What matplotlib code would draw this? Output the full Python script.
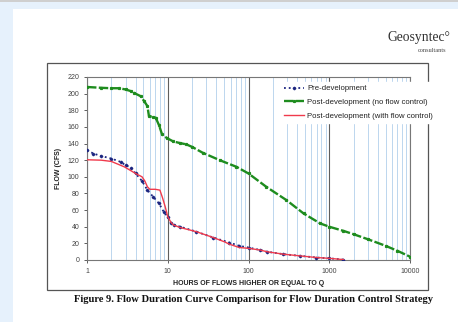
import numpy as np
import matplotlib
matplotlib.use('Agg')
from matplotlib import pyplot as plt
from matplotlib.patches import Rectangle
from matplotlib.ticker import LogLocator, FixedLocator, NullFormatter

# values (hours, cfs)
pre_hours = [1, 1.2, 1.5, 2, 2.6, 3, 3.5, 4, 4.8, 5.6, 6.6, 7.8, 8.9, 10, 11, 12,
             14.3, 22.7, 36.6, 58, 77, 100, 140, 168, 270, 430, 690, 1000, 1500]
pre_flow = [132, 128, 125, 122, 118, 114, 111, 104, 95, 84, 76, 68, 58, 52, 44, 42,
            40, 34, 27, 21, 17, 15, 12, 10, 7, 5, 3, 2, 0.5]

nocontrol_hours = [1, 1.5, 2, 2.5, 3, 3.5, 3.8, 4.6, 5.1, 5.6, 5.85, 6.5, 7.1, 7.8, 8.5,
                   9.8, 11.7, 14.3, 17, 20, 27, 44, 71, 100, 166, 295, 480, 770, 1000,
                   1500, 2000, 3000, 5000, 7000, 10000]
nocontrol_flow = [208, 207, 206.5, 206.5, 205, 203, 201, 197, 191, 185, 173, 172, 171, 162, 151,
                  146.5, 142.5, 140.5, 139, 136, 129, 120, 112, 104, 88, 72, 56, 44, 40,
                  35, 31, 25, 17, 11, 4]

control_hours = [1, 1.5, 2, 2.9, 4, 4.8, 5.2, 5.6, 6, 7, 8, 8.6, 9.3, 10, 11, 11.8,
                 14.3, 22.7, 36.6, 50, 58, 77, 100, 140, 168, 270, 430, 690, 1000, 1500]
control_flow = [120.5, 120, 118.5, 112, 104, 100, 95, 88, 85, 85, 84, 75, 64, 52, 45, 42,
                39, 34, 27, 22, 19, 15, 14, 12, 10, 7, 5, 3, 2, 0.5]

labels = ['Pre-development', 'Post-development (no flow control)',
          'Post-development (with flow control)']

W, H = 458, 322
plt.rcParams['font.family'] = ['Liberation Sans', 'DejaVu Sans']
fig = plt.figure(figsize=(W / 100, H / 100), dpi=100)
fig.patch.set_facecolor('#e6f1fc')

# white page and chart frame (behind the axes)
fig.add_artist(Rectangle((13 / W, 0), 1, 1 - 9 / H, transform=fig.transFigure,
                         facecolor='white', edgecolor='none', zorder=-3))
fig.add_artist(Rectangle((0, 1 - 2 / H), 1, 2 / H, transform=fig.transFigure,
                         facecolor='#cfcfcf', edgecolor='none', zorder=-3))
fig.add_artist(Rectangle((47 / W, 1 - 290 / H), 381 / W, 227 / H, transform=fig.transFigure,
                         facecolor='white', edgecolor='#555555', lw=0.9, zorder=-2))

ax = fig.add_axes([87 / W, 1 - 260 / H, 323 / W, 183 / H])
ax.set_zorder(1)
ax.set_xscale('log')
ax.set_xlim(1, 10000)
ax.set_ylim(0, 220)

# vertical grid only
ax.xaxis.set_minor_locator(LogLocator(base=10, subs=np.arange(2, 10)))
ax.xaxis.set_minor_formatter(NullFormatter())
ax.grid(which='minor', axis='x', color='#bcd6ee', lw=0.7)
ax.grid(which='major', axis='x', color='#5e5e5e', lw=0.8)
ax.set_axisbelow(True)

ax.plot(nocontrol_hours, nocontrol_flow, color='#1e8c1e', lw=1.7, ls=(0, (4, 1)),
        marker='s', markersize=1.3, label=labels[1], zorder=3)
ax.plot(pre_hours, pre_flow, color='#1c2580', lw=1.3, ls=':',
        marker='D', markersize=1.3, label=labels[0], zorder=4)
ax.plot(control_hours, control_flow, color='#f03a4c', lw=1.0, ls='-',
        label=labels[2], zorder=5)

ax.yaxis.set_major_locator(FixedLocator(np.arange(0, 221, 20)))
ax.tick_params(axis='both', labelsize=5, colors='#444444', length=2, width=0.6)
ax.tick_params(axis='x', which='minor', length=0)
ax.set_xticks([1, 10, 100, 1000, 10000])
ax.set_xticklabels(['1', '10', '100', '1000', '10000'])
for s in ax.spines.values():
    s.set_color('#777777')
    s.set_linewidth(0.8)

ax.set_ylabel('FLOW (CFS)', fontsize=5, fontweight='bold', color='#222222', labelpad=4)
ax.set_xlabel('HOURS OF FLOWS HIGHER OR EQUAL TO Q', fontsize=5, fontweight='bold',
              color='#222222', labelpad=4)

h, l = ax.get_legend_handles_labels()
order = [1, 0, 2]
leg = fig.legend([h[i] for i in order], [l[i] for i in order], loc='upper left',
                 bbox_to_anchor=(277 / W, 1 - 78 / H), fontsize=5.6, frameon=True,
                 fancybox=False, edgecolor='white', framealpha=1, labelspacing=0.8,
                 handlelength=2.6, handletextpad=0.4, borderpad=0.4)
leg.set_zorder(6)
for t in leg.get_texts():
    t.set_color('#222222')

fig.text(450 / W, 1 - 37 / H, 'Geosyntec\u00b0', fontsize=9.8, family='Liberation Serif',
         ha='right', va='center', color='#333333')
fig.text(446 / W, 1 - 50 / H, 'consultants', fontsize=4.5, family='Liberation Serif',
         ha='right', va='center', color='#444444')
fig.text(253 / W, 1 - 300 / H,
         'Figure 9. Flow Duration Curve Comparison for Flow Duration Control Strategy',
         fontsize=7.6, family='Liberation Serif', fontweight='bold', ha='center',
         va='center', color='#111111')

fig.savefig('out.png', dpi=100, facecolor=fig.get_facecolor())
